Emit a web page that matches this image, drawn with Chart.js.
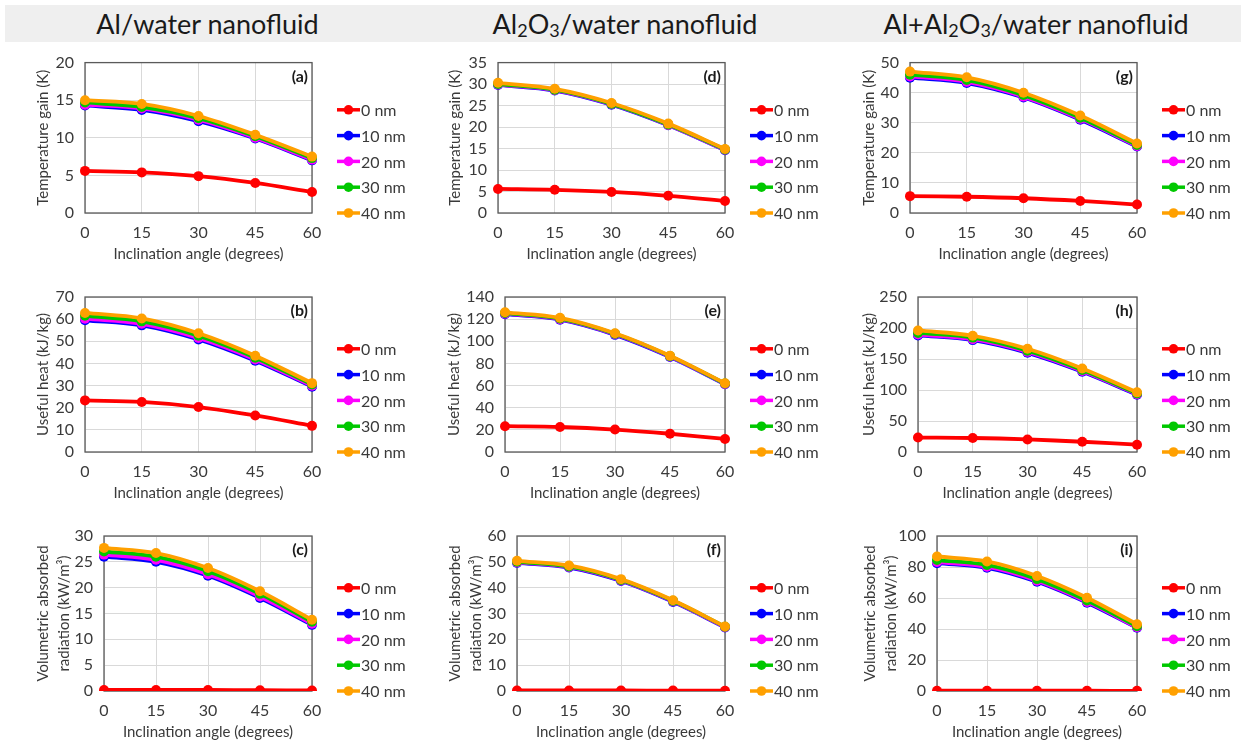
<!DOCTYPE html>
<html>
<head>
<meta charset="utf-8">
<script src="https://cdn.jsdelivr.net/npm/chart.js@4.4.1/dist/chart.umd.min.js"></script>
<style>
  body { margin: 0; background: #fff; width: 1247px; height: 746px; position: relative; overflow: hidden; font-family: Lato, "Open Sans", sans-serif; }
  #band { position: absolute; left: 5px; top: 5px; width: 1236px; height: 37px; background: #efefef; }
  .head { position: absolute; top: 5px; height: 37px; line-height: 37px; font-size: 27px; font-weight: 400; color: #1a1a1a; text-align: center; }
  .head sub { font-size: 18px; vertical-align: -3px; line-height: 0; }
  canvas { position: absolute; }
</style>
</head>
<body>
<div id="band"></div>
<div class="head" style="left:0;width:415px">Al/water nanofluid</div>
<div class="head" style="left:415px;width:420px">Al<sub>2</sub>O<sub>3</sub>/water nanofluid</div>
<div class="head" style="left:830px;width:412px">Al+Al<sub>2</sub>O<sub>3</sub>/water nanofluid</div>

<canvas id="a"></canvas><canvas id="b"></canvas><canvas id="c"></canvas>
<canvas id="d"></canvas><canvas id="e"></canvas><canvas id="f"></canvas>
<canvas id="g"></canvas><canvas id="h"></canvas><canvas id="i"></canvas>

<script>
let angles = ['0', '15', '30', '45', '60']
let sizes = ['0 nm', '10 nm', '20 nm', '30 nm', '40 nm']
let colors = ['#ff0000', '#0000ff', '#ff00ff', '#00c800', '#ffa000']

// one row per particle size: 0, 10, 20, 30, 40 nm
let tempAl = [
    [5.6, 5.4, 4.9, 4.0, 2.8],
    [14.3, 13.7, 12.2, 9.9, 7.0],
    [14.4, 13.9, 12.4, 10.0, 7.1],
    [14.7, 14.1, 12.6, 10.2, 7.3],
    [15.0, 14.5, 12.9, 10.4, 7.5]
]
let heatAl = [
    [23.3, 22.6, 20.3, 16.5, 11.8],
    [59.5, 57.2, 50.8, 41.2, 29.5],
    [60.2, 57.9, 51.5, 41.8, 29.9],
    [61.5, 59.0, 52.5, 42.6, 30.5],
    [62.8, 60.3, 53.6, 43.5, 31.1]
]
let radAl = [
    [0.2, 0.2, 0.2, 0.15, 0.1],
    [26.0, 25.0, 22.3, 18.0, 12.8],
    [26.4, 25.4, 22.6, 18.3, 13.0],
    [27.0, 26.0, 23.2, 18.8, 13.4],
    [27.7, 26.7, 23.8, 19.3, 13.8]
]
let tempOx = [
    [5.6, 5.4, 4.9, 4.0, 2.8],
    [29.8, 28.5, 25.2, 20.4, 14.6],
    [29.9, 28.6, 25.3, 20.5, 14.7],
    [30.0, 28.7, 25.4, 20.6, 14.8],
    [30.3, 28.9, 25.6, 20.8, 14.9]
]
let heatOx = [
    [23.3, 22.6, 20.3, 16.5, 11.8],
    [124.5, 119.5, 105.8, 85.8, 61.2],
    [125.0, 120.0, 106.3, 86.2, 61.5],
    [125.5, 120.5, 106.8, 86.6, 61.8],
    [126.2, 121.2, 107.3, 87.0, 62.1]
]
let radOx = [
    [0.2, 0.2, 0.2, 0.15, 0.1],
    [49.6, 47.8, 42.6, 34.5, 24.6],
    [49.8, 48.0, 42.8, 34.7, 24.7],
    [50.0, 48.2, 43.0, 34.9, 24.9],
    [50.4, 48.6, 43.3, 35.1, 25.0]
]
let tempMix = [
    [5.6, 5.4, 4.9, 4.0, 2.8],
    [45.0, 43.2, 38.4, 31.0, 22.1],
    [45.4, 43.6, 38.7, 31.3, 22.3],
    [46.0, 44.2, 39.2, 31.7, 22.6],
    [47.0, 45.1, 40.0, 32.4, 23.1]
]
let heatMix = [
    [23.3, 22.6, 20.3, 16.5, 11.8],
    [188.0, 180.5, 160.0, 129.5, 92.5],
    [189.5, 182.0, 161.5, 130.7, 93.3],
    [192.0, 184.5, 163.5, 132.3, 94.5],
    [196.0, 187.5, 166.5, 134.8, 96.2]
]
let radMix = [
    [0.2, 0.2, 0.2, 0.15, 0.1],
    [82.5, 79.5, 70.5, 57.0, 40.8],
    [83.2, 80.2, 71.1, 57.5, 41.1],
    [84.5, 81.3, 72.2, 58.4, 41.8],
    [86.8, 83.6, 74.2, 60.2, 43.1]
]

let tempTitle = 'Temperature gain (K)'
let heatTitle = 'Useful heat (kJ/kg)'
let radTitle = ['Volumetric absorbed', 'radiation (kW/m\u00b3)']

// panel boxes: canvas position and plot area (page pixels)
let panels = [
    {id: 'a', tag: '(a)', data: tempAl, title: tempTitle, max: 20, step: 5, cx: 0, cy: 42, cw: 415, ch: 220, L: 85, T: 57, R: 312, B: 213, tx: 43},
    {id: 'b', tag: '(b)', data: heatAl, title: heatTitle, max: 70, step: 10, cx: 0, cy: 262, cw: 415, ch: 238, L: 85, T: 297, R: 312, B: 452, tx: 43},
    {id: 'c', tag: '(c)', data: radAl, title: radTitle, max: 30, step: 5, cx: 0, cy: 500, cw: 415, ch: 246, L: 104, T: 536, R: 312, B: 691, tx: 43},
    {id: 'd', tag: '(d)', data: tempOx, title: tempTitle, max: 35, step: 5, cx: 415, cy: 42, cw: 415, ch: 220, L: 498, T: 58, R: 725, B: 213, tx: 40},
    {id: 'e', tag: '(e)', data: heatOx, title: heatTitle, max: 140, step: 20, cx: 415, cy: 262, cw: 415, ch: 238, L: 505, T: 297, R: 725, B: 452, tx: 39},
    {id: 'f', tag: '(f)', data: radOx, title: radTitle, max: 60, step: 10, cx: 415, cy: 500, cw: 415, ch: 246, L: 517, T: 536, R: 725, B: 691, tx: 40},
    {id: 'g', tag: '(g)', data: tempMix, title: tempTitle, max: 50, step: 10, cx: 830, cy: 42, cw: 417, ch: 220, L: 910, T: 58, R: 1137, B: 213, tx: 39},
    {id: 'h', tag: '(h)', data: heatMix, title: heatTitle, max: 250, step: 50, cx: 830, cy: 262, cw: 417, ch: 238, L: 918, T: 297, R: 1137, B: 452, tx: 39},
    {id: 'i', tag: '(i)', data: radMix, title: radTitle, max: 100, step: 20, cx: 830, cy: 500, cw: 417, ch: 246, L: 937, T: 536, R: 1137, B: 691, tx: 40}
]

let textColor = '#3a3a3a'
let xAxisH = 50

let framePlugin = {
    id: 'frame',
    beforeDatasetsDraw(chart) {
        let ctx = chart.ctx
        let a = chart.chartArea
        ctx.save()
        ctx.strokeStyle = '#5a5a5a'
        ctx.lineWidth = 1.3
        ctx.strokeRect(a.left, a.top, a.right - a.left, a.bottom - a.top)
        ctx.restore()
    },
    afterDraw(chart) {
        let ctx = chart.ctx
        let a = chart.chartArea
        ctx.save()
        // panel tag
        ctx.fillStyle = '#1a1a1a'
        ctx.font = 'bold 16px Lato'
        ctx.textAlign = 'right'
        ctx.textBaseline = 'middle'
        ctx.fillText(chart.options.plugins.frame.tag, a.right - 4, a.top + 14)
        // legend on the right
        let sets = chart.data.datasets
        ctx.font = '16px Lato'
        ctx.textAlign = 'left'
        for (let k = 0; k < sets.length; k++) {
            let y = a.bottom - (sets.length - 1 - k) * 25.8
            let x0 = a.right + 25
            ctx.strokeStyle = sets[k].borderColor
            ctx.lineWidth = 3.5
            ctx.beginPath()
            ctx.moveTo(x0, y)
            ctx.lineTo(x0 + 23, y)
            ctx.stroke()
            ctx.fillStyle = sets[k].borderColor
            ctx.beginPath()
            ctx.arc(x0 + 11.5, y, 4.8, 0, Math.PI * 2)
            ctx.fill()
            ctx.fillStyle = textColor
            ctx.fillText(sets[k].label, x0 + 24, y + 1)
        }
        ctx.restore()
    }
}

function DrawPanel(p) {
    let cv = document.getElementById(p.id)
    cv.style.left = p.cx + 'px'
    cv.style.top = p.cy + 'px'
    cv.style.width = p.cw + 'px'
    cv.style.height = p.ch + 'px'
    cv.width = p.cw
    cv.height = p.ch

    let datasets = []
    for (let k = 0; k < sizes.length; k++) {
        datasets.push({
            label: sizes[k],
            data: p.data[k],
            borderColor: colors[k],
            backgroundColor: colors[k],
            borderWidth: 3.8,
            pointRadius: 5,
            pointBorderWidth: 0,
            tension: 0.35,
            order: sizes.length - k
        })
    }

    new Chart(cv, {
        type: 'line',
        data: {labels: angles, datasets: datasets},
        plugins: [framePlugin],
        options: {
            responsive: false,
            animation: false,
            devicePixelRatio: 1,
            layout: {
                padding: {
                    left: 0,
                    top: p.T - p.cy,
                    right: p.cx + p.cw - p.R,
                    bottom: p.cy + p.ch - p.B - xAxisH
                }
            },
            plugins: {
                legend: {display: false},
                tooltip: {enabled: false},
                frame: {tag: p.tag}
            },
            scales: {
                x: {
                    afterFit(s) { s.height = xAxisH },
                    grid: {color: '#d9d9d9', drawTicks: false},
                    border: {display: false},
                    ticks: {color: textColor, font: {family: 'Lato', size: 16}, padding: 10, maxRotation: 0, autoSkip: false},
                    title: {display: true, text: 'Inclination angle (degrees)', color: textColor,
                        font: {family: 'Lato', size: 15}, padding: {top: 0, bottom: 0}}
                },
                y: {
                    min: 0,
                    max: p.max,
                    afterFit(s) { s.width = p.L - p.cx },
                    grid: {color: '#d9d9d9', drawTicks: false},
                    border: {display: false},
                    ticks: {stepSize: p.step, color: textColor, font: {family: 'Lato', size: 16}, padding: 11, autoSkip: false},
                    title: {display: true, text: p.title, color: textColor,
                        font: {family: 'Lato', size: 15, lineHeight: 1.4}, padding: {top: p.tx - 10.5, bottom: 0}}
                }
            }
        }
    })
}

for (let n = 0; n < panels.length; n++) {
    DrawPanel(panels[n])
}
</script>
</body>
</html>
